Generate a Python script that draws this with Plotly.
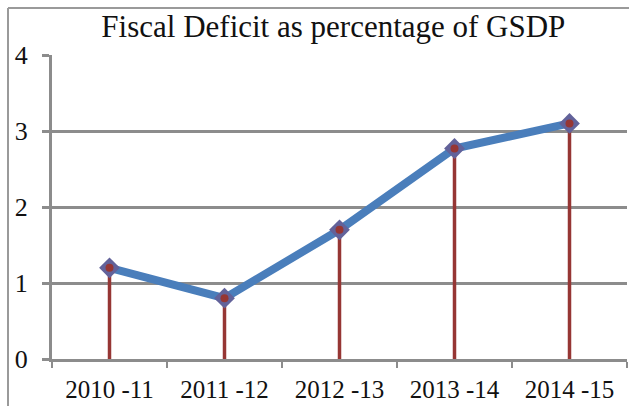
import plotly.graph_objects as go

# Fiscal deficit as a share of GSDP, by financial year
years = ["2010 -11", "2011 -12", "2012 -13", "2013 -14", "2014 -15"]
deficit_pct = [1.2, 0.8, 1.7, 2.77, 3.1]
y_ticks = [0, 1, 2, 3, 4]

W, H = 629, 406
L, R, T, B = 52, 2, 55, 47
plot_w, plot_h = W - L - R, H - T - B

GRID = "#8c8c8c"
BLUE = "#4a7ebb"
RED = "#963634"
SERIF = "Liberation Serif"

fig = go.Figure()

# drop lines from the axis to each point
stem_x, stem_y = [], []
for yr, v in zip(years, deficit_pct):
    stem_x += [yr, yr, None]
    stem_y += [0, v, None]
fig.add_trace(go.Scatter(x=stem_x, y=stem_y, mode="lines",
                         line=dict(color=RED, width=3.5), hoverinfo="skip"))

# the series line with diamond markers
fig.add_trace(go.Scatter(x=years, y=deficit_pct, mode="lines+markers",
                         line=dict(color=BLUE, width=8),
                         marker=dict(symbol="diamond", size=16, color="#62629a")))

# small red caps on top of each drop line
fig.add_trace(go.Scatter(x=years, y=deficit_pct, mode="markers",
                         marker=dict(symbol="circle", size=8, color=RED)))

# frame on the left and top edges of the figure
px = lambda p: (p - L) / plot_w
py = lambda p: (H - B - p) / plot_h
fig.add_shape(type="line", xref="paper", yref="paper",
              x0=px(8), x1=px(8), y0=py(8), y1=py(H + 5),
              line=dict(color="#9a9a9a", width=2))
fig.add_shape(type="line", xref="paper", yref="paper",
              x0=px(8), x1=px(W + 5), y0=py(8), y1=py(8),
              line=dict(color="#9a9a9a", width=2))

fig.update_layout(
    width=W, height=H,
    margin=dict(l=L, r=R, t=T, b=B, pad=0, autoexpand=False),
    paper_bgcolor="white", plot_bgcolor="white",
    showlegend=False,
    title=dict(text="Fiscal Deficit as percentage of GSDP",
               font=dict(family=SERIF, size=31, color="#111111"),
               x=0.53, xanchor="center", y=0.962, yanchor="top"),
    font=dict(family=SERIF, color="#111111"),
)

fig.update_xaxes(
    type="category", categoryorder="array", categoryarray=years,
    range=[-0.5, len(years) - 0.5],
    automargin=False,
    showgrid=False, zeroline=False,
    showline=True, linecolor=GRID, linewidth=3,
    ticks="outside", tickson="boundaries", ticklen=6, tickwidth=2, tickcolor=GRID,
    tickfont=dict(family=SERIF, size=25, color="#111111"),
    ticklabelstandoff=6,
)
fig.update_yaxes(
    range=[0, 4], tickvals=y_ticks, ticktext=[str(t) for t in y_ticks],
    automargin=False,
    showgrid=True, gridcolor=GRID, gridwidth=3,
    zeroline=False,
    showline=True, linecolor=GRID, linewidth=3,
    ticks="outside", ticklen=7, tickwidth=3, tickcolor=GRID,
    tickfont=dict(family=SERIF, size=26, color="#111111"),
    ticklabelstandoff=9,
)

fig.write_html("out.html")
